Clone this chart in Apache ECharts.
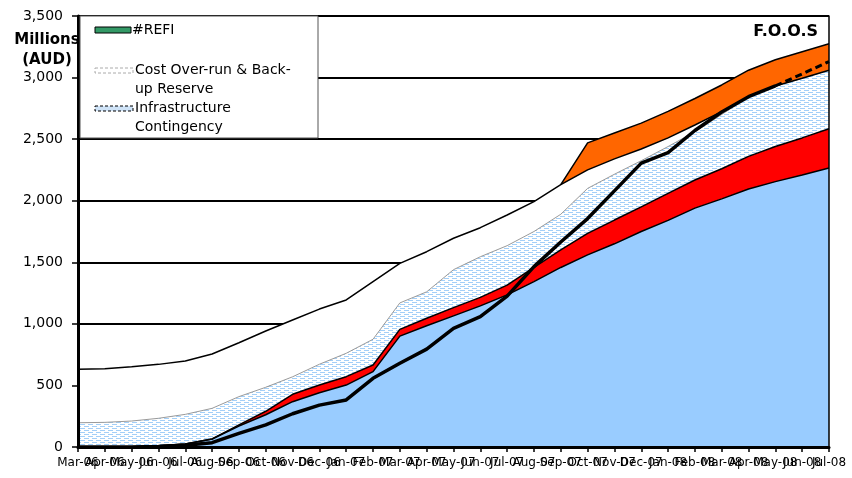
<!DOCTYPE html>
<html>
<head>
<meta charset="utf-8">
<script src="https://cdn.jsdelivr.net/npm/echarts@6/dist/echarts.min.js"></script>
<style>
  html, body { margin: 0; padding: 0; background: #fff; }
  #chart { width: 852px; height: 478px; }
</style>
</head>
<body>
<div id="chart"></div>
<script>
// monthly categories, Mar-06 .. Jul-08
var months = ['Mar-06', 'Apr-06', 'May-06', 'Jun-06', 'Jul-06', 'Aug-06', 'Sep-06', 'Oct-06', 'Nov-06', 'Dec-06',
  'Jan-07', 'Feb-07', 'Mar-07', 'Apr-07', 'May-07', 'Jun-07', 'Jul-07', 'Aug-07', 'Sep-07', 'Oct-07', 'Nov-07', 'Dec-07',
  'Jan-08', 'Feb-08', 'Mar-08', 'Apr-08', 'May-08', 'Jun-08', 'Jul-08'];

// stacked bands (millions AUD), bottom to top
var baseCost = [0, 0, 3, 10, 25, 65, 170, 262, 368, 440, 503, 612, 900, 985, 1065, 1146, 1235, 1343, 1458, 1560,
  1650, 1750, 1840, 1940, 2015, 2095, 2155, 2209, 2265];
var redBand = [0, 0, 0, 0, 0, 0, 10, 28, 60, 63, 68, 54, 55, 60, 67, 69, 80, 115, 142, 175,
  193, 200, 220, 228, 245, 265, 285, 301, 320];
var infraContingency = [197, 200, 208, 223, 240, 249, 229, 195, 142, 169, 190, 209, 215, 215, 308, 330, 320, 292, 290, 365,
  372, 375, 380, 392, 440, 485, 492, 484, 475];
var costOverrun = [434, 436, 441, 438, 433, 441, 438, 457, 461, 448, 433, 468, 321, 326, 255, 236, 249, 242, 240, 150,
  125, 95, 70, 55, 23, 0, 0, 0, 0];
var refi = [null, null, null, null, null, null, null, null, null, null, null, null, null, null, null, null, null, null,
  0, 220, 210, 210, 215, 215, 217, 215, 213, 216, 215];

// actual spend line and its dashed forecast tail
var actual = [0, 0, 0, 5, 15, 35, 110, 180, 270, 340, 382, 558, 680, 795, 964, 1058, 1225, 1465, 1665, 1855,
  2080, 2305, 2390, 2570, 2720, 2845, 2932, null, null];
var forecast = [null, null, null, null, null, null, null, null, null, null, null, null, null, null, null, null, null, null,
  null, null, null, null, null, null, null, null, 2932, 3030, 3130];

// dashed light-blue fill (brick rows)
var pat = document.createElement('canvas');
pat.width = 8;
pat.height = 4;
var pc = pat.getContext('2d');
pc.fillStyle = '#ffffff';
pc.fillRect(0, 0, 8, 4);
pc.fillStyle = '#a3cff8';
pc.fillRect(0, 0, 5, 1);
pc.fillRect(4, 2, 5, 1);
pc.fillRect(0, 2, 1, 1);

var FONT = 'DejaVu Sans';

var chart = echarts.init(document.getElementById('chart'));

function band(name, data, fill, lineColor, lineWidth) {
  return {
    name: name,
    type: 'line',
    stack: 'total',
    data: data,
    showSymbol: false,
    symbol: 'none',
    lineStyle: { color: lineColor, width: lineWidth },
    areaStyle: { color: fill, opacity: 1 },
    emphasis: { disabled: true },
    silent: true
  };
}

// axis drawn over the areas (line only)
function frameAxis(pos, width) {
  return {
    type: 'value',
    position: pos,
    min: 0,
    max: 3500,
    interval: 500,
    z: 20,
    axisLine: { show: true, onZero: false, lineStyle: { color: '#000', width: width } },
    axisTick: { show: false },
    axisLabel: { show: false },
    splitLine: { show: false }
  };
}

var option = {
  animation: false,
  backgroundColor: '#fff',
  grid: {
    left: 78,
    right: 23,
    top: 16,
    bottom: 31,
    outerBoundsMode: 'none'
  },
  xAxis: {
    type: 'category',
    data: months,
    boundaryGap: false,
    z: 20,
    axisLine: { lineStyle: { color: '#000', width: 3 } },
    axisTick: { show: true, interval: 0, length: 5, lineStyle: { color: '#000', width: 1.5 } },
    axisLabel: { interval: 0, margin: 10, color: '#000', fontFamily: FONT, fontSize: 12 },
    splitLine: { show: false }
  },
  yAxis: [
    {
      type: 'value',
      min: 0,
      max: 3500,
      interval: 500,
      axisLine: { show: false },
      axisTick: { show: true, length: 6, lineStyle: { color: '#000', width: 1.5 } },
      axisLabel: {
        margin: 15,
        color: '#000',
        fontFamily: FONT,
        fontSize: 14,
        formatter: function (v) {
          return String(v).replace(/\B(?=(\d{3})+(?!\d))/g, ',');
        }
      },
      splitLine: { show: true, lineStyle: { color: '#000', width: 2 } }
    },
    frameAxis('left', 3),
    frameAxis('right', 1.5)
  ],
  series: [
    band('Base Cost', baseCost, '#99ccff', '#000', 1.5),
    band('Escalation', redBand, '#ff0000', '#000', 1.5),
    band('Infrastructure Contingency', infraContingency, { image: pat, repeat: 'repeat' }, '#9a9a9a', 1),
    band('Cost Over-run & Back-up Reserve', costOverrun, '#ffffff', '#000', 1.5),
    band('#REFI', refi, '#ff6600', '#000', 1.5),
    {
      name: 'Actual',
      type: 'line',
      data: actual,
      showSymbol: false,
      symbol: 'none',
      lineStyle: { color: '#000', width: 3.5 },
      silent: true,
      z: 5
    },
    {
      name: 'Forecast',
      type: 'line',
      data: forecast,
      showSymbol: false,
      symbol: 'none',
      lineStyle: { color: '#000', width: 3, type: [7, 4] },
      silent: true,
      z: 5
    }
  ],
  graphic: [
    {
      type: 'rect',
      shape: { x: 80, y: 16, width: 238, height: 122 },
      style: { fill: '#fff', stroke: '#555', lineWidth: 1 },
      z: 50
    },
    {
      type: 'rect',
      shape: { x: 95, y: 27, width: 36, height: 6 },
      style: { fill: '#339966', stroke: '#000', lineWidth: 1 },
      z: 51
    },
    {
      type: 'text',
      x: 132, y: 30,
      style: { text: '#REFI', font: '14px "DejaVu Sans"', fill: '#000', verticalAlign: 'middle' },
      z: 51
    },
    {
      type: 'rect',
      shape: { x: 95, y: 68, width: 38, height: 5 },
      style: { fill: '#fff', stroke: '#aaa', lineWidth: 1, lineDash: [3, 2] },
      z: 51
    },
    {
      type: 'text',
      x: 135, y: 61,
      style: { text: 'Cost Over-run & Back-\nup Reserve', font: '14px "DejaVu Sans"', lineHeight: 19, fill: '#000' },
      z: 51
    },
    {
      type: 'rect',
      shape: { x: 95, y: 106, width: 38, height: 5 },
      style: { fill: '#cfe3f7', stroke: '#000', lineWidth: 1, lineDash: [3, 2] },
      z: 51
    },
    {
      type: 'text',
      x: 135, y: 99,
      style: { text: 'Infrastructure\nContingency', font: '14px "DejaVu Sans"', lineHeight: 19, fill: '#000' },
      z: 51
    },
    {
      type: 'text',
      x: 47, y: 30,
      style: { text: 'Millions\n(AUD)', font: 'bold 15px "DejaVu Sans"', lineHeight: 20, fill: '#000', align: 'center' },
      z: 52
    },
    {
      type: 'text',
      x: 818, y: 32,
      style: { text: 'F.O.O.S', font: 'bold 16px "DejaVu Sans"', fill: '#000', align: 'right', verticalAlign: 'middle' },
      z: 52
    }
  ]
};

chart.setOption(option);
</script>
</body>
</html>
